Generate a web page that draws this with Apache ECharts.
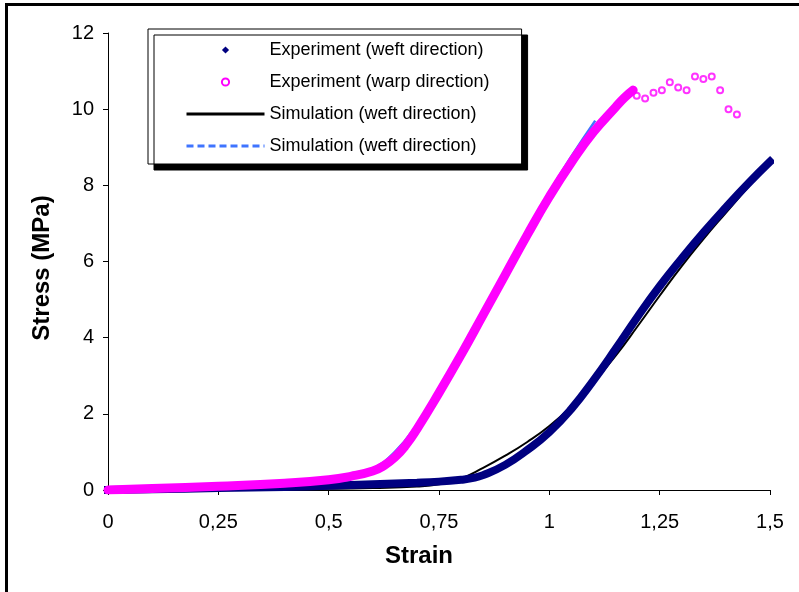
<!DOCTYPE html>
<html>
<head>
<meta charset="utf-8">
<title>Stress - strain</title>
<script src="https://cdn.jsdelivr.net/npm/echarts@6/dist/echarts.min.js"></script>
<style>
	html, body { margin: 0; padding: 0; background: #fff; }
	#chart { width: 799px; height: 592px; }
</style>
</head>
<body>
<div id="chart"></div>
<script>
;(function(){
	'use strict';

	// tick labels (comma decimals, as in the original)
	var xTickLabels = ['0', '0,25', '0,5', '0,75', '1', '1,25', '1,5'];
	var yTickLabels = ['0', '2', '4', '6', '8', '10', '12'];

	// legend texts
	var legendLabels = [
		'Experiment (weft direction)',
		'Experiment (warp direction)',
		'Simulation (weft direction)',
		'Simulation (weft direction)'
	];

	// experiment, weft direction
	var weftExpStrain = [0, 0.1, 0.25, 0.4, 0.5, 0.6, 0.7, 0.75, 0.8, 0.825, 0.85, 0.9, 0.95, 1.0, 1.05, 1.1, 1.15, 1.2, 1.25, 1.3, 1.35, 1.4, 1.45, 1.5];
	var weftExpStress = [0, 0.02, 0.05, 0.08, 0.11, 0.15, 0.19, 0.22, 0.27, 0.31, 0.39, 0.66, 1.05, 1.52, 2.13, 2.88, 3.7, 4.55, 5.35, 6.08, 6.77, 7.42, 8.04, 8.62];

	// experiment, warp direction (dense part up to the peak)
	var warpExpStrain = [0, 0.1, 0.25, 0.4, 0.5, 0.55, 0.6, 0.625, 0.65, 0.675, 0.7, 0.75, 0.8, 0.85, 0.9, 0.95, 1.0, 1.05, 1.1, 1.15, 1.17, 1.19];
	var warpExpStress = [0, 0.04, 0.1, 0.18, 0.27, 0.36, 0.5, 0.64, 0.86, 1.18, 1.6, 2.55, 3.55, 4.6, 5.65, 6.7, 7.7, 8.6, 9.4, 10.05, 10.3, 10.5];

	// experiment, warp direction (single points after the peak)
	var warpTailStrain = [1.198, 1.217, 1.236, 1.255, 1.273, 1.292, 1.311, 1.33, 1.349, 1.368, 1.387, 1.406, 1.425];
	var warpTailStress = [10.35, 10.28, 10.43, 10.5, 10.71, 10.57, 10.5, 10.86, 10.79, 10.86, 10.5, 10.0, 9.86];

	// simulation, weft direction
	var weftSimStrain = [0, 0.25, 0.5, 0.6, 0.7, 0.75, 0.8, 0.85, 0.9, 0.95, 1.0, 1.05, 1.1, 1.15, 1.2, 1.25, 1.3, 1.35, 1.4, 1.45, 1.5];
	var weftSimStress = [0, 0.01, 0.03, 0.05, 0.09, 0.15, 0.3, 0.58, 0.9, 1.26, 1.68, 2.2, 2.82, 3.52, 4.3, 5.1, 5.88, 6.6, 7.28, 7.95, 8.62];

	// simulation, warp direction
	var warpSimStrain = [0, 0.25, 0.5, 0.55, 0.6, 0.65, 0.7, 0.75, 0.8, 0.85, 0.9, 0.95, 1.0, 1.05, 1.104];
	var warpSimStress = [0, 0.06, 0.22, 0.34, 0.56, 1.0, 1.72, 2.66, 3.66, 4.7, 5.75, 6.8, 7.82, 8.76, 9.7];

	function pairs(xs, ys){
		var out = [];
		for (var i = 0; i < xs.length; i++) {
			out.push([xs[i], ys[i]]);
		}
		return out;
	}

	var font = '"Liberation Sans", Arial, sans-serif';

	var option = {
		animation: false,
		backgroundColor: '#fff',
		textStyle: { fontFamily: font },
		// outer frame
		graphic: [{
			type: 'rect',
			shape: { x: 6.5, y: 4.5, width: 900, height: 700 },
			style: { fill: 'none', stroke: '#000', lineWidth: 3 },
			silent: true
		}],
		grid: { left: 108, right: 29, top: 33, bottom: 102 },
		legend: {
			orient: 'vertical',
			left: 148,
			top: 29,
			padding: [12, 32, 9, 37],
			itemWidth: 78,
			itemHeight: 9,
			itemGap: 14,
			backgroundColor: '#fff',
			borderColor: '#000',
			borderWidth: 1,
			shadowColor: '#000',
			shadowBlur: 0,
			shadowOffsetX: 6,
			shadowOffsetY: 6,
			selectedMode: false,
			textStyle: { fontFamily: font, fontSize: 18, color: '#000' },
			formatter: function(name){
				return legendLabels[['expWeft', 'expWarp', 'simWeft', 'simWarp'].indexOf(name)];
			},
			// marker-only entries hide the line, line-only entries hide the marker
			data: [
				{ name: 'expWeft', lineStyle: { opacity: 0 } },
				{ name: 'expWarp', lineStyle: { opacity: 0 } },
				{ name: 'simWeft', itemStyle: { opacity: 0 }, lineStyle: { width: 3 } },
				{ name: 'simWarp', itemStyle: { opacity: 0 }, lineStyle: { width: 3, type: [7, 4] } }
			]
		},
		xAxis: {
			type: 'value',
			min: 0,
			max: 1.5,
			interval: 0.25,
			name: 'Strain',
			nameLocation: 'middle',
			nameGap: 54,
			nameTextStyle: { fontFamily: font, fontSize: 24, fontWeight: 'bold', color: '#000', padding: [0, 40, 0, 0] },
			axisLine: { lineStyle: { color: '#000', width: 1 } },
			axisTick: { inside: false, length: 5, lineStyle: { color: '#000' } },
			splitLine: { show: false },
			axisLabel: {
				margin: 22,
				fontSize: 20,
				color: '#000',
				fontFamily: font,
				formatter: function(v, i){ return xTickLabels[i]; }
			}
		},
		yAxis: {
			type: 'value',
			min: 0,
			max: 12,
			interval: 2,
			name: 'Stress (MPa)',
			nameLocation: 'middle',
			nameGap: 54,
			nameTextStyle: { fontFamily: font, fontSize: 24, fontWeight: 'bold', color: '#000', padding: [0, 13, 0, 0] },
			axisLine: { show: true, lineStyle: { color: '#000', width: 1 } },
			axisTick: { show: true, inside: false, length: 5, lineStyle: { color: '#000' } },
			splitLine: { show: false },
			axisLabel: {
				margin: 14,
				fontSize: 20,
				color: '#000',
				fontFamily: font,
				formatter: function(v, i){ return yTickLabels[i]; }
			}
		},
		series: [{
			name: 'simWeft',
			type: 'line',
			symbol: 'none',
			smooth: 0.5,
			color: '#000',
			lineStyle: { color: '#000', width: 2 },
			data: pairs(weftSimStrain, weftSimStress)
		}, {
			name: 'expWeft',
			type: 'line',
			symbol: 'diamond',
			showSymbol: false,
			smooth: 0.5,
			color: '#000080',
			lineStyle: { color: '#000080', width: 8, cap: 'square' },
			data: pairs(weftExpStrain, weftExpStress)
		}, {
			name: 'simWarp',
			type: 'line',
			symbol: 'none',
			smooth: 0.5,
			color: '#3f74ff',
			lineStyle: { color: '#3f74ff', width: 2.5 },
			data: pairs(warpSimStrain, warpSimStress)
		}, {
			name: 'expWarp',
			type: 'line',
			symbol: 'emptyCircle',
			showSymbol: false,
			smooth: 0.5,
			color: '#ff00ff',
			lineStyle: { color: '#ff00ff', width: 9, cap: 'round', join: 'round' },
			data: pairs(warpExpStrain, warpExpStress)
		}, {
			name: 'expWarp',
			type: 'scatter',
			symbol: 'circle',
			symbolSize: 6,
			itemStyle: { color: '#fff', borderColor: '#ff00ff', borderWidth: 2 },
			data: pairs(warpTailStrain, warpTailStress)
		}]
	};

	var myChart = echarts.init(document.getElementById('chart'), null, { renderer: 'canvas' });
	myChart.setOption(option);
})();
</script>
</body>
</html>
